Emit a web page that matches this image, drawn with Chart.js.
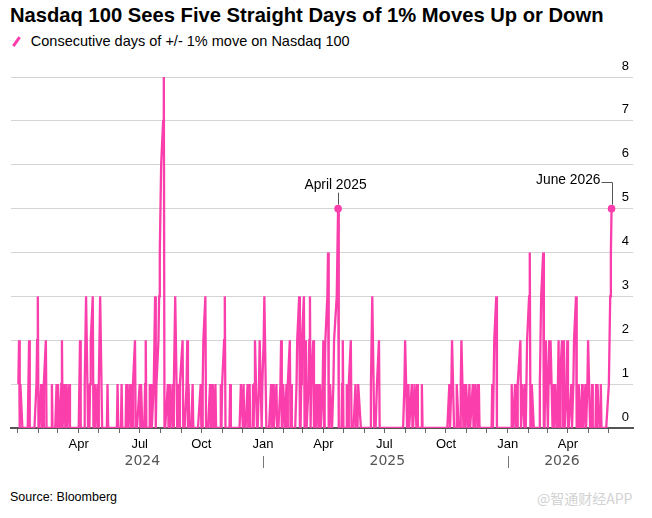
<!DOCTYPE html>
<html>
<head>
<meta charset="utf-8">
<script src="https://cdn.jsdelivr.net/npm/chart.js@4.4.1/dist/chart.umd.min.js"></script>
<style>
  body { margin: 0; background: #fff; font-family: 'Liberation Sans', Arial, sans-serif; }
  .wrap { position: relative; width: 652px; height: 518px; overflow: hidden; }
  .title { position: absolute; left: 10px; top: 4px; font-size: 20.2px; font-weight: bold; color: #000; white-space: nowrap; }
  .legend { position: absolute; left: 11px; top: 33px; font-size: 14.5px; color: #000; white-space: nowrap; }
  .legend i { display: inline-block; width: 2.8px; height: 11px; background: #fa3fac; transform: rotate(35deg); margin: 0 13px 0 4px; vertical-align: -1px; }
  .source { position: absolute; left: 10px; top: 490px; font-size: 12.5px; color: #000; }
  .mark { position: absolute; left: 537px; top: 488px; font-size: 14px; color: #d2d2d2; font-family: 'Noto Sans CJK SC', sans-serif; }
  #chartBox { position: absolute; left: 0; top: 60px; width: 652px; height: 420px; }
</style>
</head>
<body>
<div class="wrap">
  <div class="title">Nasdaq 100 Sees Five Straight Days of 1% Moves Up or Down</div>
  <div class="legend"><i></i>Consecutive days of +/- 1% move on Nasdaq 100</div>
  <div id="chartBox"><canvas id="streak"></canvas></div>
  <div class="source">Source: Bloomberg</div>
  <div class="mark">@智通财经APP</div>
</div>
<script>
// Jours de bourse : du 2 janvier 2024 au 5 juin 2026, fermetures US exclues
const firstDay = '2024-01-02';
const lastDay = '2026-06-05';
const holidays = [
    '2024-01-01', '2024-01-15', '2024-02-19', '2024-03-29', '2024-05-27', '2024-06-19',
    '2024-07-04', '2024-09-02', '2024-11-28', '2024-12-25',
    '2025-01-01', '2025-01-09', '2025-01-20', '2025-02-17', '2025-04-18', '2025-05-26',
    '2025-06-19', '2025-07-04', '2025-09-01', '2025-11-27', '2025-12-25',
    '2026-01-01', '2026-01-19', '2026-02-16', '2026-04-03', '2026-05-25'
];

// Jours consécutifs de variation +/- 1% (une valeur par séance)
const values2024 = [
    1,2,0,1,0,0,0,0,0,0,1,2,0,0,0,0,0,0,1,2,3,          // jan
    0,0,1,0,1,0,1,2,0,0,0,0,0,1,0,0,0,0,1,0,            // fév
    1,0,0,1,2,0,1,0,0,1,0,1,0,0,0,0,0,0,0,0,            // mar
    0,1,2,0,0,0,0,1,2,3,0,1,0,1,2,3,0,0,1,0,1,0,        // avr
    1,2,3,0,0,0,0,0,0,1,0,0,0,0,0,0,0,0,0,1,0,0,        // mai
    0,1,0,0,0,0,1,0,1,0,1,0,0,1,2,0,0,0,0,              // juin
    1,0,1,0,0,1,2,0,0,0,1,0,1,0,1,2,3,0,1,2,3,4,        // juil
    5,6,7,8,0,0,0,1,0,1,0,0,1,0,1,2,3,0,0,1,0,1,        // août
    2,0,0,0,1,2,0,1,0,0,0,1,0,0,0,0,0,0,0,1,            // sep
    0,0,1,2,3,0,0,0,0,1,0,1,0,1,0,1,0,0,0,0,0,1,0,      // oct
    1,2,3,0,0,0,0,0,1,0,0,0,0,0,0,0,0,0,0,1,            // nov
    0,1,0,0,0,1,0,0,1,0,0,1,0,1,2,0,0,1,2,0,1           // déc
];
const values2025 = [
    2,3,0,0,0,0,1,0,0,1,0,1,0,0,0,1,2,0,0,1,            // jan
    0,0,1,0,1,2,0,1,0,0,0,0,1,2,3,0,0,1,2,              // fév
    3,0,1,2,0,1,2,3,0,1,2,0,0,1,0,1,0,1,0,0,1,          // mar
    2,0,1,2,3,4,0,0,1,0,0,1,2,3,4,5,0,0,0,1,2,          // avr
    0,0,0,1,0,0,1,2,0,0,0,0,1,0,0,0,1,0,0,0,0,          // mai
    0,0,0,0,0,0,0,1,2,3,0,0,0,1,2,0,0,0,0,0,            // juin
    0,0,0,0,0,0,0,0,0,0,0,0,0,0,0,0,0,0,0,0,0,1,        // juil
    2,0,0,1,0,0,1,0,0,0,1,0,1,0,0,0,0,1,0,0,0,          // août
    0,0,0,0,0,0,0,0,0,0,0,0,0,0,0,0,0,0,0,0,0,          // sep
    0,0,0,1,0,0,1,2,0,0,0,0,1,0,0,0,1,2,0,1,0,0,1,      // oct
    0,0,1,0,0,1,0,0,1,0,1,0,1,0,0,0,0,0,0,              // nov
    0,0,0,0,0,0,1,0,1,2,3,0,0,0,0,0,0,0,0,0,0,0         // déc
];
const values2026 = [
    0,0,0,1,0,0,1,0,1,0,1,2,0,0,1,0,1,0,1,2,            // jan
    3,4,0,0,1,0,0,0,0,0,0,1,2,3,4,0,0,1,2,              // fév
    0,1,2,1,2,0,1,0,0,1,0,1,2,0,1,2,0,1,2,0,1,2,        // mar
    0,0,1,0,0,1,2,3,0,0,0,1,0,0,1,0,0,1,0,0,1,          // avr
    2,0,0,0,1,0,0,0,1,0,1,0,0,1,0,0,0,0,0,0,            // mai
    1,2,3,4,5                                           // juin
];

const monthNames = ['Jan', '', '', 'Apr', '', '', 'Jul', '', '', 'Oct', '', ''];
const yearNames = ['2024', '2025', '2026'];
const notes = [
    { date: '2025-04-23', text: 'April 2025', style: 'up' },
    { date: '2026-06-05', text: 'June 2026', style: 'elbow' }
];

const pink = '#fa3fac';
const fontFamily = "'Liberation Sans', Arial, sans-serif";

// Numéro de jour depuis le 1er janvier 2024
const dayNum = (iso) => Math.round((Date.parse(iso + 'T00:00:00Z') - Date.UTC(2024, 0, 1)) / 86400000);

const dates = [];
for (let d = new Date(firstDay + 'T00:00:00Z'); d <= new Date(lastDay + 'T00:00:00Z'); d.setUTCDate(d.getUTCDate() + 1)) {
    const iso = d.toISOString().slice(0, 10);
    const dow = d.getUTCDay();
    if (dow === 0 || dow === 6 || holidays.includes(iso)) continue;
    dates.push(iso);
}
const values = values2024.concat(values2025, values2026);
if (values.length !== dates.length) console.warn('longueurs', values.length, dates.length);

const points = dates.map((iso, i) => ({ x: dayNum(iso), y: values[i] }));
const noteIdx = notes.map(n => dates.indexOf(n.date));

// Ticks mensuels
const monthTicks = [];
const monthLabel = {};
for (let y = 2024; y <= 2026; y++) {
    for (let m = 0; m < 12; m++) {
        const iso = y + '-' + String(m + 1).padStart(2, '0') + '-01';
        const v = dayNum(iso);
        if (v > dayNum(lastDay)) continue;
        monthTicks.push(v);
        monthLabel[v] = (y === 2024 && m === 0) ? '' : monthNames[m];
    }
}

// Années + séparateurs sous l'axe
const yearPlugin = {
    id: 'years',
    afterDraw(chart) {
        const ctx = chart.ctx;
        const xs = chart.scales.x;
        ctx.save();
        ctx.font = "14px 'DejaVu Sans', sans-serif";
        ctx.fillStyle = '#555';
        ctx.textAlign = 'center';
        ctx.textBaseline = 'middle';
        yearNames.forEach(yr => {
            const inYear = dates.filter(d => d.startsWith(yr));
            const mid = (dayNum(inYear[0]) + dayNum(inYear[inYear.length - 1])) / 2;
            ctx.fillText(yr, xs.getPixelForValue(mid) + 2, 401);
        });
        ctx.strokeStyle = '#777';
        ctx.lineWidth = 1;
        yearNames.slice(1).forEach(yr => {
            const px = Math.round(xs.getPixelForValue(dayNum(yr + '-01-01'))) + 0.5;
            ctx.beginPath();
            ctx.moveTo(px, 396);
            ctx.lineTo(px, 408);
            ctx.stroke();
        });
        ctx.restore();
    }
};

// Annotations (avril 2025, juin 2026)
const notePlugin = {
    id: 'notes',
    afterDatasetsDraw(chart) {
        const ctx = chart.ctx;
        const meta = chart.getDatasetMeta(0);
        ctx.save();
        ctx.font = '13.8px ' + fontFamily;
        ctx.fillStyle = '#000';
        ctx.strokeStyle = '#555';
        ctx.lineWidth = 1;
        notes.forEach((n, k) => {
            const pt = meta.data[noteIdx[k]];
            if (!pt) return;
            const px = Math.round(pt.x) + 0.5;
            const py = pt.y;
            ctx.beginPath();
            if (n.style === 'up') {
                ctx.moveTo(px, py - 4);
                ctx.lineTo(px, py - 16);
                ctx.stroke();
                ctx.textAlign = 'center';
                ctx.textBaseline = 'alphabetic';
                ctx.fillText(n.text, px - 3, py - 20);
            } else {
                const ly = Math.round(py - 27) + 0.5;
                ctx.moveTo(px, py - 4);
                ctx.lineTo(px, ly);
                ctx.lineTo(px - 11, ly);
                ctx.stroke();
                ctx.textAlign = 'right';
                ctx.textBaseline = 'alphabetic';
                ctx.fillText(n.text, px - 12, py - 25);
            }
        });
        ctx.restore();
    }
};

let chart = new Chart(document.getElementById('streak'), {
    type: 'line',
    data: {
        datasets: [{
            label: 'Consecutive days of +/- 1% move on Nasdaq 100',
            data: points,
            borderColor: pink,
            borderWidth: 2.3,
            tension: 0,
            pointRadius: (c) => noteIdx.includes(c.dataIndex) ? 3.8 : 0,
            pointBackgroundColor: pink,
            pointBorderWidth: 0,
            pointHoverRadius: 0
        }]
    },
    options: {
        responsive: true,
        maintainAspectRatio: false,
        animation: false,
        layout: { padding: { left: 11, right: 19, top: 17, bottom: 0 } },
        plugins: { legend: { display: false }, tooltip: { enabled: false } },
        scales: {
            x: {
                type: 'linear',
                min: -10,
                max: 918,
                afterBuildTicks: (scale) => { scale.ticks = monthTicks.map(v => ({ value: v })); },
                afterFit: (scale) => { scale.height = 52; },
                grid: { drawOnChartArea: false, drawTicks: true, tickLength: 5, color: '#666' },
                border: { display: true, color: '#555', width: 2 },
                ticks: {
                    autoSkip: false,
                    maxRotation: 0,
                    padding: 4,
                    color: '#000',
                    font: { size: 13, family: fontFamily },
                    callback: (v) => monthLabel[v] ?? ''
                }
            },
            y: {
                position: 'right',
                min: 0,
                max: 8,
                afterFit: (scale) => { scale.width = 0; },
                grid: { color: '#d4d4d4', drawTicks: false, lineWidth: 1 },
                border: { display: false },
                ticks: {
                    stepSize: 1,
                    mirror: true,
                    labelOffset: -11,
                    padding: -4,
                    color: '#000',
                    font: { size: 13, family: fontFamily }
                }
            }
        }
    },
    plugins: [yearPlugin, notePlugin]
});
</script>
</body>
</html>
